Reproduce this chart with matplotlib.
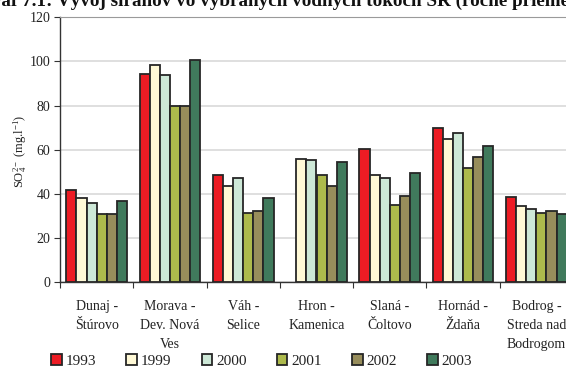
import matplotlib
matplotlib.use("Agg")
import matplotlib.pyplot as plt
import numpy as np

plt.rcParams['font.family'] = ['Liberation Serif', 'DejaVu Serif']
plt.rcParams['mathtext.fontset'] = 'custom'
plt.rcParams['mathtext.rm'] = 'Liberation Serif'
plt.rcParams['mathtext.it'] = 'Liberation Serif:italic'

categories = ["Dunaj -\nŠtúrovo", "Morava -\nDev. Nová\nVes", "Váh -\nSelice",
              "Hron -\nKamenica", "Slaná -\nČoltovo", "Hornád -\nŽdaňa",
              "Bodrog -\nStreda nad\nBodrogom"]
years = ["1993", "1999", "2000", "2001", "2002", "2003"]
values = {
    "1993": [41.7, 94.1, 48.8, np.nan, 60.4, 69.7, 38.7],
    "1999": [38.1, 98.5, 43.8, 56.0, 48.8, 64.8, 34.5],
    "2000": [36.0, 93.7, 47.4, 55.4, 47.4, 67.6, 33.1],
    "2001": [31.0, 79.7, 31.5, 48.8, 35.2, 51.8, 31.6],
    "2002": [31.0, 79.7, 32.4, 43.8, 38.9, 56.8, 32.4],
    "2003": [36.7, 100.6, 38.1, 54.5, 49.7, 61.9, 30.9],
}
colors = ["#ED1C24", "#FFF9D6", "#CDE8D7", "#ADBA4C", "#978D5B", "#407A5C"]
title = "Graf 7.1: Vývoj síranov vo vybraných vodných tokoch SR (ročné priemery)"

W, H = 566, 369
fig = plt.figure(figsize=(W / 100, H / 100), dpi=100)
ax = fig.add_axes([60 / W, (H - 282.3) / H, 513 / W, 265 / H])

n = len(years)
bw = 0.83 / n
x = np.arange(len(categories))
for i, (yr, c) in enumerate(zip(years, colors)):
    off = (i - (n - 1) / 2) * bw
    ax.bar(x + off, values[yr], width=bw, color=c, edgecolor="#262626",
           linewidth=1.3, label=yr, zorder=3)

ax.set_xlim(-0.5, len(categories) - 0.5)
ax.set_ylim(0, 120)
ax.set_yticks(np.arange(0, 121, 20))
ax.tick_params(axis='y', labelsize=10, direction='out', length=4, width=0.8,
               pad=3, colors="#333333", labelcolor="#222222")
ax.set_xticks(x)
ax.set_xticklabels(categories, fontsize=10, linespacing=1.6, color="#222222", va='top')
ax.set_xticks(np.arange(-0.5, len(categories) + 0.5, 1), minor=True)
ax.tick_params(axis='x', which='major', length=0, pad=13)
ax.tick_params(axis='x', which='minor', direction='out', length=4, width=0.8,
               colors="#333333")
ax.yaxis.grid(True, color="#d9d9d9", linewidth=1.2, zorder=0)
ax.set_axisbelow(True)
ax.spines['right'].set_visible(False)
ax.spines['top'].set_color("#9a9a9a")
ax.spines['left'].set_color("#333333")
ax.spines['bottom'].set_color("#333333")
ax.spines['left'].set_linewidth(1.0)
ax.spines['bottom'].set_linewidth(1.0)

ax.set_ylabel("SO$_4^{2-}$ (mg.l$^{-1}$)", fontsize=9, color="#222222")
ax.yaxis.label.set_va('center')
ax.yaxis.set_label_coords((20 - 60) / 513, (282.3 - 151) / 265)

leg = fig.legend(loc='center left', bbox_to_anchor=(51 / W, 1 - 361 / H), ncol=6,
                 frameon=False, fontsize=11, handlelength=0.7, handleheight=0.7,
                 handletextpad=0.25, columnspacing=1.98, borderpad=0, borderaxespad=0)
for t in leg.get_texts():
    t.set_color("#222222")

# heading sits partly outside the canvas
fig.canvas.draw()
r = fig.canvas.get_renderer()
probe = fig.text(0, 0, "Gr", fontsize=13.8, fontweight='bold')
gw = probe.get_window_extent(r).width
probe.remove()
fig.text(-(gw - 1) / W, 1 - 6 / H, title, fontsize=13.8, fontweight='bold',
         ha='left', va='baseline', color="#111111")

fig.savefig("out.png", dpi=100)
